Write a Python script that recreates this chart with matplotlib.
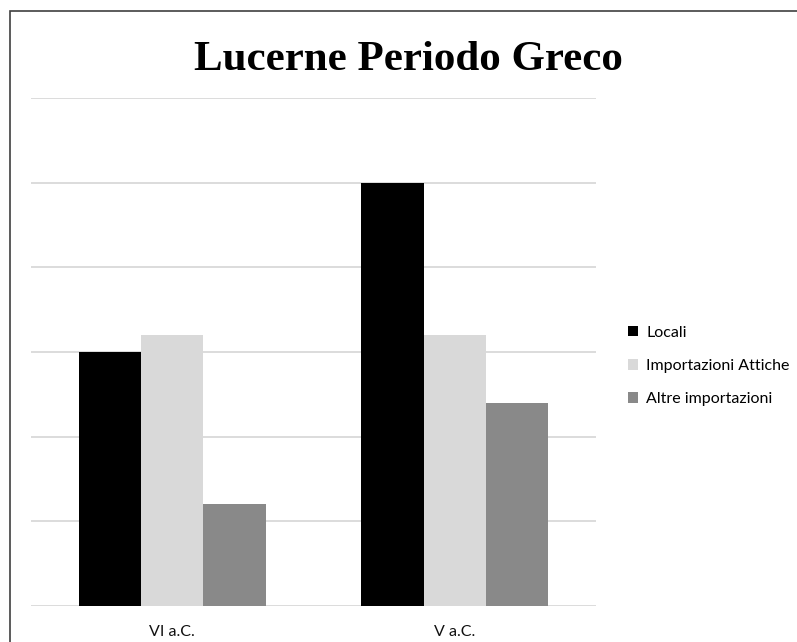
import numpy as np
import matplotlib.pyplot as plt
from matplotlib.patches import Rectangle

# dati
categorie = ["VI a.C.", "V a.C."]
serie = ["Locali", "Importazioni Attiche", "Altre importazioni"]
locali = [15, 25]
attiche = [16, 16]
altre = [6, 12]
colori = ["#000000", "#D9D9D9", "#898989"]

fig = plt.figure(figsize=(7.97, 6.42), dpi=100)
ax = fig.add_axes([0.0389, 0.0561, 0.7089, 0.7913])

x = np.arange(len(categorie))
w = 0.221
for i, (vals, nome) in enumerate(zip([locali, attiche, altre], serie)):
    ax.bar(x + (i - 1) * w, vals, w, color=colori[i], label=nome, zorder=3)

ax.set_xlim(-0.5, 1.5)
ax.set_ylim(0, 30)
ax.set_yticks(np.arange(0, 31, 5))
ax.yaxis.grid(True, color="#D9D9D9", linewidth=1.3, zorder=0)
ax.tick_params(axis="y", left=False, labelleft=False)
ax.tick_params(axis="x", bottom=False, pad=10)
ax.set_xticks(x)
ax.set_xticklabels(categorie, fontsize=11.5, family="Lato", color="#111111")
for s in ax.spines.values():
    s.set_visible(False)

fig.text(0.513, 0.907, "Lucerne Periodo Greco", ha="center", va="center",
         fontsize=31, fontweight="bold", family="Liberation Serif")

fig.legend(loc="center left", bbox_to_anchor=(0.77, 0.43), frameon=False,
           prop={"family": "Lato", "size": 11.5}, handlelength=0.65,
           handleheight=0.65, handletextpad=0.5, labelspacing=1.2)

# bordo del grafico
fig.add_artist(Rectangle((10 / 797, -0.5), 2, 1.5 - 11 / 642, transform=fig.transFigure,
                         fill=False, edgecolor="#404040", linewidth=1.2))

fig.savefig("out.png", dpi=100)
